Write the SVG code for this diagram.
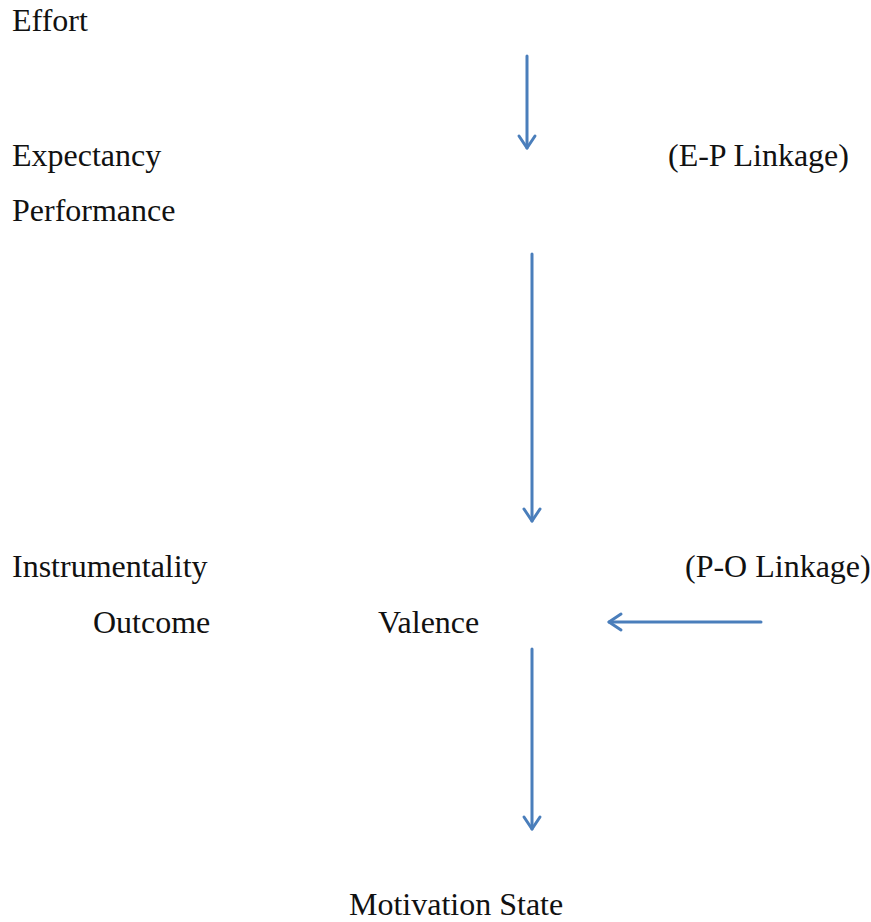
<svg xmlns="http://www.w3.org/2000/svg" width="871" height="922" viewBox="0 0 871 922">
  <style>
    text { font-family: 'Liberation Serif', 'Times New Roman', 'DejaVu Serif', serif; font-size: 32px; fill: #111111; }
    .conn { stroke: #4a7ebb; stroke-width: 3; fill: none; stroke-linecap: round; }
    .head { stroke: #4a7ebb; stroke-width: 3; fill: none; stroke-linecap: round; stroke-linejoin: round; }
  </style>
  <rect width="871" height="922" fill="#ffffff"/>

  <g id="effort"><text x="12" y="31">Effort</text></g>
  <g id="expectancy"><text x="12" y="166">Expectancy</text></g>
  <g id="ep-linkage"><text x="668" y="166">(E-P Linkage)</text></g>
  <g id="performance"><text x="12" y="221">Performance</text></g>
  <g id="instrumentality"><text x="12" y="577">Instrumentality</text></g>
  <g id="po-linkage"><text x="685" y="577">(P-O Linkage)</text></g>
  <g id="outcome"><text x="93" y="633">Outcome</text></g>
  <g id="valence"><text x="378" y="633">Valence</text></g>
  <g id="motivation-state"><text x="349" y="915">Motivation State</text></g>

  <g id="connectors">
    <line class="conn" x1="527" y1="56" x2="527" y2="148"/>
    <polyline class="head" points="519,136 527,148 535,136"/>

    <line class="conn" x1="532" y1="254" x2="532" y2="521"/>
    <polyline class="head" points="524,509 532,521 540,509"/>

    <line class="conn" x1="761" y1="622" x2="609" y2="622"/>
    <polyline class="head" points="621,614 609,622 621,630"/>

    <line class="conn" x1="532" y1="649" x2="532" y2="829"/>
    <polyline class="head" points="524,817 532,829 540,817"/>
  </g>
</svg>
